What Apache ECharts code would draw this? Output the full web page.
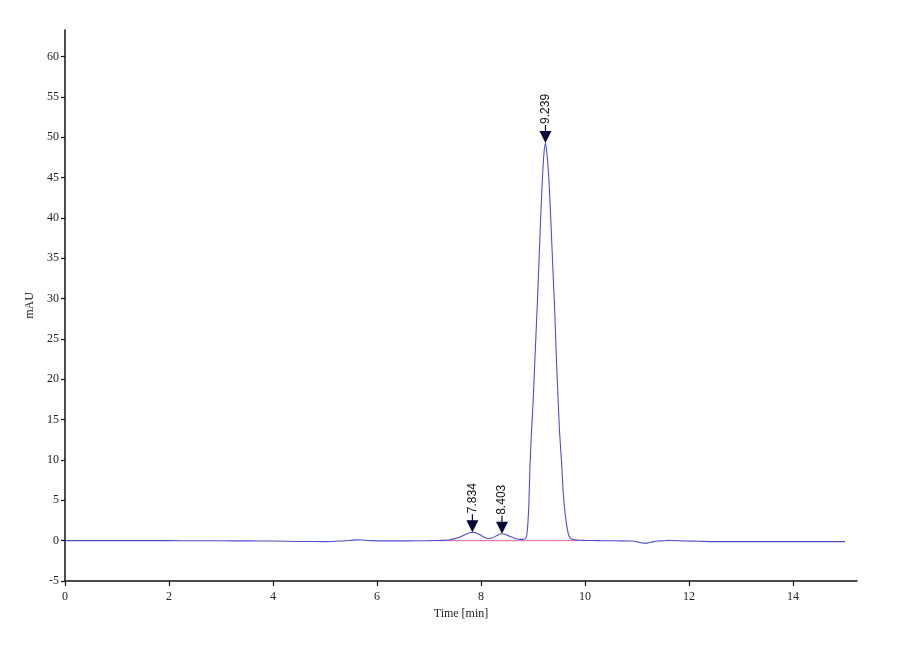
<!DOCTYPE html>
<html>
<head>
<meta charset="utf-8">
<script src="https://cdn.jsdelivr.net/npm/echarts@6/dist/echarts.min.js"></script>
<style>html,body{margin:0;padding:0;background:#fff;}#c{width:900px;height:660px;}</style>
</head>
<body>
<div id="c"></div>
<script>
// Chromatogram trace (time in min, signal in mAU)
var times = [0,0.5,1,1.5,2,2.5,3,3.5,4,4.5,5,5.3,5.5,5.6,5.7,5.9,6.2,6.6,7.0,7.2,7.3,7.4,7.5,7.6,7.7,7.78,7.834,7.9,7.98,8.06,8.14,8.22,8.3,8.36,8.403,8.46,8.54,8.62,8.7,8.76,8.82,8.86,8.88,8.9,8.92,8.94,8.97,9.0,9.03,9.06,9.09,9.12,9.15,9.18,9.21,9.239,9.27,9.3,9.33,9.36,9.39,9.42,9.45,9.48,9.51,9.55,9.58,9.61,9.64,9.67,9.7,9.74,9.8,9.9,10.0,10.3,10.6,10.9,11.0,11.1,11.2,11.3,11.4,11.5,11.6,11.7,11.9,12.2,12.5,13,13.5,14,14.5,15];
var signal = [0,0,0,0,0,-0.02,-0.02,-0.03,-0.05,-0.1,-0.12,-0.05,0.05,0.1,0.08,0,-0.03,-0.03,0,0.03,0.06,0.12,0.25,0.45,0.75,0.98,1.05,0.98,0.72,0.42,0.26,0.35,0.62,0.8,0.85,0.8,0.58,0.35,0.2,0.16,0.18,0.3,0.7,2.0,4.5,9.0,13.5,17.0,21.5,26.0,30.5,35.5,40.5,44.8,48.0,49.3,47.8,45.3,41.5,37.0,32.5,28.0,22.5,17.9,13.5,9.6,6.0,3.8,2.2,1.1,0.45,0.2,0.12,0.06,0.03,0,-0.02,-0.05,-0.15,-0.28,-0.3,-0.15,-0.05,-0.02,0.03,0.02,-0.03,-0.08,-0.12,-0.12,-0.12,-0.12,-0.12,-0.12];
// Integration baseline
var baseTimes = [7.1, 9.9];
var baseValues = [0, 0];
// Peak annotations
var peakTimes = [7.834, 8.403, 9.239];
var peakHeights = [1.05, 0.85, 49.3];
var peakLabels = ['7.834', '8.403', '9.239'];
// Axis ticks
var xTicks = [0,2,4,6,8,10,12,14];
var yTicks = [-5,0,5,10,15,20,25,30,35,40,45,50,55,60];

var trace = times.map(function(t,i){return [t, signal[i]];});
var base = baseTimes.map(function(t,i){return [t, baseValues[i]];});
var peaks = peakTimes.map(function(t,i){return {value:[t, peakHeights[i]], name: peakLabels[i]};});

var serif = "'Liberation Serif','Times New Roman',serif";
var chart = echarts.init(document.getElementById('c'), null, {renderer:'canvas'});
chart.setOption({
  animation: false,
  backgroundColor: '#ffffff',
  grid: {left: 65, right: 43, top: 30, bottom: 79},
  xAxis: {
    type: 'value', min: 0, max: 15.23,
    name: 'Time [min]', nameLocation: 'middle', nameGap: 25,
    nameTextStyle: {fontFamily: serif, fontSize: 12, color: '#222'},
    axisLine: {onZero: false, lineStyle: {color: '#111', width: 1.5}},
    axisTick: {show: true, length: 5, inside: false, customValues: xTicks, lineStyle: {color: '#111', width: 1.2}},
    axisLabel: {customValues: xTicks, fontFamily: serif, fontSize: 12, color: '#222', margin: 10},
    splitLine: {show: false}
  },
  yAxis: {
    type: 'value', min: -5, max: 63.3,
    name: 'mAU', nameLocation: 'middle', nameGap: 22, nameRotate: 90,
    nameTextStyle: {fontFamily: serif, fontSize: 12, color: '#222'},
    axisLine: {onZero: false, lineStyle: {color: '#111', width: 1.5}},
    axisTick: {show: true, length: 4, inside: false, customValues: yTicks, lineStyle: {color: '#111', width: 1.2}},
    axisLabel: {customValues: yTicks, fontFamily: serif, fontSize: 12, color: '#222', margin: 6},
    splitLine: {show: false}
  },
  series: [
    {
      type: 'line', data: base, symbol: 'none', silent: true,
      lineStyle: {color: '#e0609c', width: 1}, z: 2
    },
    {
      type: 'line', data: trace, symbol: 'none', smooth: 0.2, silent: true,
      lineStyle: {color: '#4d4dcc', width: 1.1}, z: 3
    },
    {
      type: 'scatter', data: peaks, silent: true, z: 5,
      symbol: 'path://M4.5,0 L5.5,0 L5.5,6 L10,6 L5,18 L0,6 L4.5,6 Z',
      symbolSize: [12, 18], symbolOffset: [0, -9], symbolKeepAspect: false,
      itemStyle: {color: '#05053a', opacity: 1},
      label: {
        show: true, position: 'top', distance: 1, rotate: 90,
        align: 'left', verticalAlign: 'middle',
        formatter: function(p){return p.name;},
        fontFamily: "'Liberation Sans',Arial,sans-serif", fontSize: 12, color: '#111'
      }
    }
  ]
});
</script>
</body>
</html>
